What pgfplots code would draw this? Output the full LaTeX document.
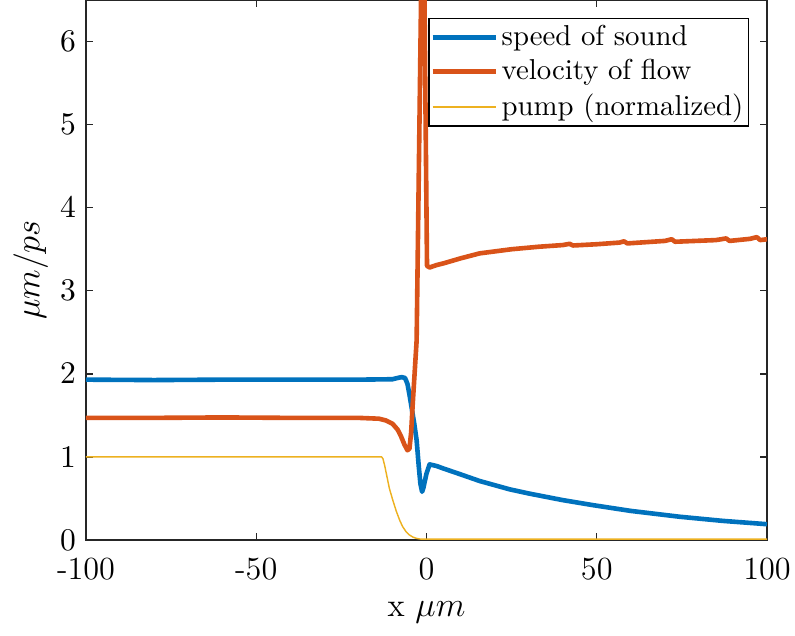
\documentclass[border=0pt]{standalone}
\usepackage{pgfplots}
\pgfplotsset{compat=1.18}
\definecolor{mblue}{rgb}{0,0.447,0.741}
\definecolor{morange}{rgb}{0.85,0.325,0.098}
\definecolor{myellow}{rgb}{0.929,0.694,0.125}
\definecolor{axgray}{rgb}{0.15,0.15,0.15}
\begin{document}
\begin{tikzpicture}
\path[use as bounding box] (-29.86pt,-33.33pt) rectangle (246.18pt,187.5pt);
\begin{axis}[
  scale only axis, width=236.46pt, height=187.5pt,
  xmin=-100, xmax=100, ymin=0, ymax=6.5,
  xtick={-100,-50,0,50,100}, xticklabels={-100,-50,0,50,100},
  ytick={0,1,2,3,4,5,6},
  tick align=inside, major tick length=2.4pt,
  axis line style={axgray, line width=0.5pt},
  tick style={axgray, line width=0.5pt},
  ticklabel style={font=\fontsize{11.2}{13}\selectfont, text=black},
  xticklabel style={yshift=-2.8pt},
  xlabel={x $\mu m$}, ylabel={$\mu m/ps$},
  label style={font=\fontsize{11.5}{13}\selectfont},
  xlabel style={at={(axis description cs:0.5,-0.142)}, anchor=base},
  ylabel style={at={(axis description cs:-0.081,0.5)}, anchor=center},
  legend style={at={(axis description cs:0.9736,0.9667)}, anchor=north east,
    draw=black, line width=0.5pt, font=\fontsize{10}{12}\selectfont,
    inner xsep=0.5pt, inner ysep=1pt, row sep=1pt,
    nodes={inner sep=1.2pt}, cells={anchor=west}},
  legend image code/.code={\draw[#1] (0pt,0pt) -- (22pt,0pt);},
]
\addplot[mblue, line width=1.6pt, line join=round] coordinates {
(-100,1.93) (-80,1.925) (-60,1.93) (-40,1.93) (-20,1.93) (-10,1.935) (-8.5,1.95)
(-7.3,1.96) (-6.3,1.95) (-5.6,1.88) (-5,1.75) (-4.4,1.6) (-3.6,1.4) (-2.9,1.2)
(-2.3,0.9) (-1.8,0.68) (-1.3,0.58) (-0.9,0.63) (0,0.8) (0.9,0.91) (3,0.89)
(5,0.86) (10,0.79) (15.6,0.71) (20,0.66) (24.4,0.61) (30,0.56) (40,0.48)
(48.8,0.42) (60,0.35) (74.3,0.28) (87,0.23) (100,0.19)
};
\addlegendentry{speed of sound}
\addplot[morange, line width=1.6pt, line join=round] coordinates {
(-100,1.47) (-80,1.47) (-60,1.475) (-40,1.47) (-20,1.47) (-14,1.46) (-12,1.44)
(-10,1.4) (-8.5,1.33) (-7.5,1.25) (-6.5,1.15) (-5.6,1.08) (-5,1.1) (-4.5,1.3)
(-4.1,1.6) (-3.5,2.0) (-2.9,2.4) (-1.6,6.5) (-1.0,8.3) (-0.6,6.5) (0.15,3.3)
(0.9,3.28) (3,3.31) (5,3.33) (10,3.39) (15.6,3.45) (25,3.5) (33,3.53) (40,3.55)
(42,3.565) (43,3.545) (50,3.56) (56.7,3.58) (58,3.595) (59,3.57) (70,3.6) (72,3.62)
(73,3.59) (85,3.61) (88,3.63) (89,3.6) (95,3.625) (97,3.645) (98,3.61) (100,3.62)
};
\addlegendentry{velocity of flow}
\addplot[myellow, line width=0.5pt] coordinates {
(-100,1) (-13.2,1) (-12.8,0.98) (-12.3,0.9) (-11.8,0.8) (-10.9,0.62) (-9.9,0.48)
(-8.9,0.35) (-7.9,0.24) (-7,0.16) (-6,0.1) (-5,0.06) (-4,0.035) (-3,0.02)
(-2,0.012) (-1,0.01) (100,0.01)
};
\addlegendentry{pump (normalized)}
\end{axis}
\end{tikzpicture}
\end{document}
